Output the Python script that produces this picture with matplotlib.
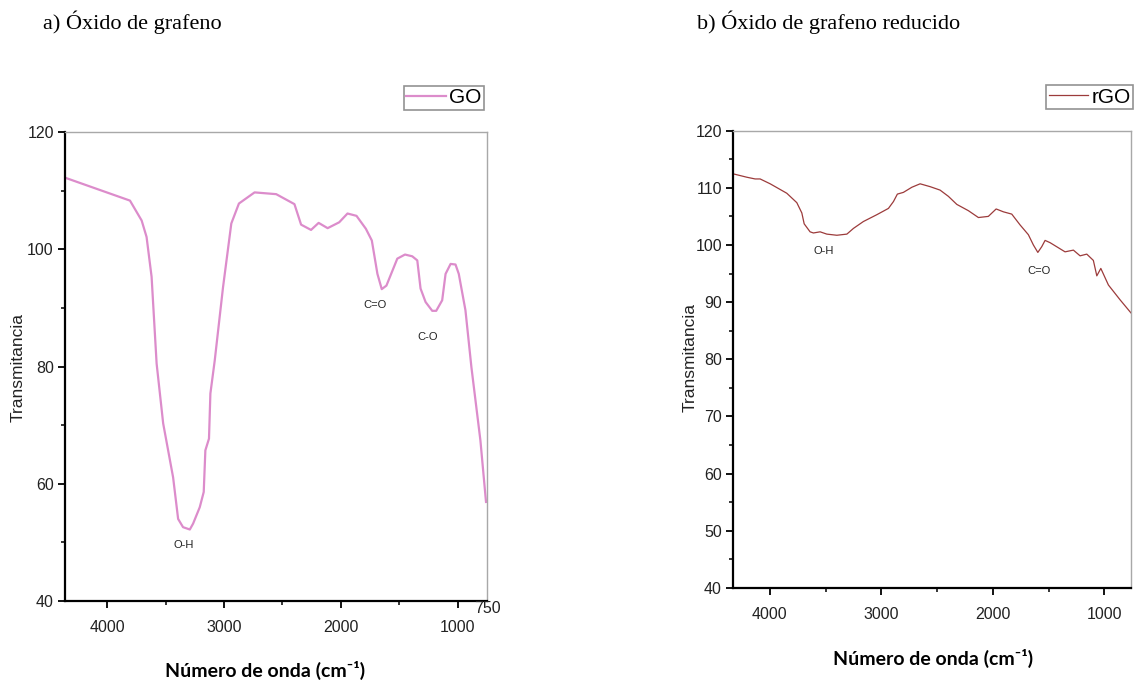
import matplotlib
matplotlib.use("Agg")
import matplotlib.pyplot as plt
from matplotlib.ticker import MultipleLocator, FixedLocator
from matplotlib import font_manager

# ---------------- data ----------------
go_wavenumber = [4358, 3804, 3704, 3662, 3619, 3576, 3520, 3435, 3392, 3350, 3292, 3264,
                 3207, 3173, 3159, 3128, 3116, 3079, 3008, 2937, 2872, 2738, 2553, 2397,
                 2340, 2255, 2190, 2113, 2014, 1943, 1866, 1786, 1735, 1687, 1650, 1610,
                 1517, 1451, 1389, 1346, 1318, 1275, 1218, 1184, 1133, 1104, 1061, 1019,
                 991, 934, 883, 806, 758]
go_transmittance = [112.2, 108.3, 104.9, 102.1, 95.3, 80.5, 70.3, 61.1, 54.0, 52.6, 52.2, 53.2,
                    56.0, 58.6, 65.7, 67.7, 75.4, 81.0, 93.5, 104.4, 107.8, 109.7, 109.4, 107.7,
                    104.2, 103.3, 104.5, 103.6, 104.6, 106.1, 105.7, 103.5, 101.5, 95.8, 93.2, 93.8,
                    98.4, 99.1, 98.8, 98.1, 93.3, 91.0, 89.5, 89.5, 91.3, 95.8, 97.5, 97.4,
                    95.8, 89.6, 79.9, 67.4, 56.9]

rgo_wavenumber = [4320, 4206, 4132, 4087, 3997, 3848, 3758, 3713, 3692, 3639, 3609, 3549,
                  3489, 3399, 3309, 3250, 3161, 3040, 2936, 2891, 2856, 2802, 2726, 2652,
                  2562, 2473, 2398, 2323, 2219, 2129, 2040, 1970, 1905, 1830, 1755, 1681,
                  1636, 1596, 1561, 1531, 1486, 1352, 1277, 1217, 1157, 1098, 1067, 1031,
                  963, 858, 760]
rgo_transmittance = [112.4, 111.85, 111.55, 111.55, 110.7, 109.05, 107.4, 105.6, 103.7, 102.3, 102.1, 102.3,
                     101.9, 101.7, 101.9, 102.9, 104.1, 105.3, 106.4, 107.6, 108.9, 109.2, 110.1, 110.7,
                     110.2, 109.6, 108.5, 107.1, 106.0, 104.8, 105.0, 106.3, 105.8, 105.4, 103.5, 101.8,
                     100.0, 98.7, 99.7, 100.8, 100.4, 98.8, 99.1, 98.1, 98.4, 97.3, 94.6, 95.9,
                     93.0, 90.4, 88.1]

go_peak_labels = ["O-H", "C=O", "C-O"]
go_peak_x = [3343, 1708, 1261]
go_peak_y = [49.5, 90.5, 85.0]

rgo_peak_labels = ["O-H", "C=O"]
rgo_peak_x = [3519, 1585]
rgo_peak_y = [99.0, 95.5]

x_major_ticks = [4000, 3000, 2000, 1000]
x_minor_ticks = [3500, 2500, 1500]

titles = ["a) Óxido de grafeno", "b) Óxido de grafeno reducido"]
xlabel = "Número de onda (cm⁻¹)"
ylabel = "Transmitancia"

# ---------------- fonts ----------------
avail = {f.name for f in font_manager.fontManager.ttflist}
tick_family = "Liberation Sans Narrow" if "Liberation Sans Narrow" in avail else "Liberation Sans"
tick_size = 13 if tick_family == "Liberation Sans Narrow" else 11.5

GO_COLOR = "#dc8ccb"
RGO_COLOR = "#9c3b3b"

fig = plt.figure(figsize=(11.42, 6.84), dpi=100)

ax1 = fig.add_axes([0.0569, 0.1213, 0.3695, 0.6857])
ax2 = fig.add_axes([0.6419, 0.1404, 0.3485, 0.6686])


def style_axes(ax, ymajor, yminor):
    ax.set_ylim(40, 120)
    ax.yaxis.set_major_locator(MultipleLocator(ymajor))
    ax.yaxis.set_minor_locator(MultipleLocator(yminor))
    ax.xaxis.set_major_locator(FixedLocator(x_major_ticks))
    ax.xaxis.set_minor_locator(FixedLocator(x_minor_ticks))
    for s in ["left", "bottom"]:
        ax.spines[s].set_color("black")
        ax.spines[s].set_linewidth(1.6)
    for s in ["top", "right"]:
        ax.spines[s].set_color("#a8a8a8")
        ax.spines[s].set_linewidth(1.0)
    ax.tick_params(which="major", direction="out", length=5, width=1.3, color="black",
                   top=False, right=False, pad=3)
    ax.tick_params(which="minor", direction="out", length=3, width=1.1, color="black",
                   top=False, right=False)
    for lab in ax.get_xticklabels() + ax.get_yticklabels():
        lab.set_fontfamily(tick_family)
        lab.set_fontsize(tick_size)
        lab.set_color("#222222")


# ---------------- panel a ----------------
ax1.plot(go_wavenumber, go_transmittance, color=GO_COLOR, lw=1.6, label="GO")
ax1.set_xlim(4360, 750)
style_axes(ax1, 20, 10)
ax1.tick_params(axis="x", pad=9)
ax1.text(750, 40, "750", transform=ax1.transData, ha="center", va="top",
         fontfamily=tick_family, fontsize=tick_size, color="#222222")
for lab, xx, yy in zip(go_peak_labels, go_peak_x, go_peak_y):
    ax1.text(xx, yy, lab, ha="center", va="center", fontsize=8,
             fontfamily=tick_family, color="#222222")

# ---------------- panel b ----------------
ax2.plot(rgo_wavenumber, rgo_transmittance, color=RGO_COLOR, lw=0.9, label="rGO")
ax2.set_xlim(4330, 760)
style_axes(ax2, 10, 5)
ax2.tick_params(axis="x", pad=9)
for lab, xx, yy in zip(rgo_peak_labels, rgo_peak_x, rgo_peak_y):
    ax2.text(xx, yy, lab, ha="center", va="center", fontsize=8,
             fontfamily=tick_family, color="#222222")

# legends
for ax, anchor in [(ax1, (0.993, 1.047)), (ax2, (1.005, 1.047))]:
    leg = ax.legend(loc="lower right", bbox_to_anchor=anchor, frameon=True, fancybox=False,
                    borderpad=0.12, borderaxespad=0, handlelength=1.9, handletextpad=0.15,
                    prop={"family": tick_family, "size": 15})
    leg.get_frame().set_edgecolor("#777777")
    leg.get_frame().set_linewidth(1.2)
    for t in leg.get_texts():
        t.set_color("black")

# axis labels
label_font = "Lato" if "Lato" in avail else "Open Sans"
fig.text(265 / 1142, 1 - 670 / 684, xlabel, ha="center", va="center",
         fontfamily=label_font, fontweight="bold", fontsize=14)
fig.text(933 / 1142, 1 - 658 / 684, xlabel, ha="center", va="center",
         fontfamily=label_font, fontweight="bold", fontsize=14)
fig.text(18 / 1142, 1 - 368 / 684, ylabel, ha="center", va="center", rotation=90,
         fontfamily="Liberation Sans", fontsize=12.5, color="#222222")
fig.text(690 / 1142, 1 - 358 / 684, ylabel, ha="center", va="center", rotation=90,
         fontfamily="Liberation Sans", fontsize=12.5, color="#222222")

# titles
fig.text(43 / 1142, 1 - 22 / 684, titles[0], ha="left", va="center",
         fontfamily="Liberation Serif", fontsize=16)
fig.text(697 / 1142, 1 - 22 / 684, titles[1], ha="left", va="center",
         fontfamily="Liberation Serif", fontsize=16)

fig.savefig("out.png", dpi=100)
